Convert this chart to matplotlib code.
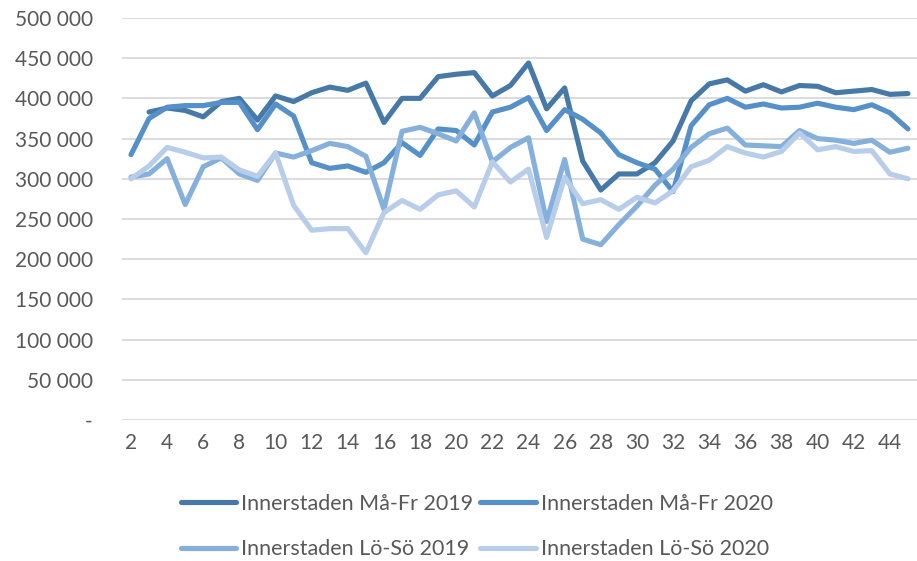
import numpy as np
import matplotlib
matplotlib.use("Agg")
import matplotlib.pyplot as plt
from matplotlib.ticker import FuncFormatter

# weeks 2..45
weeks = list(range(2, 46))

# Innerstaden Må-Fr 2019 (no value for week 2)
mafr_2019 = [np.nan, 383000, 388000, 385000, 377000, 396000, 400000, 373000, 403000, 396000,
             407000, 414000, 410000, 419000, 370000, 400000, 400000, 427000, 430000, 432000,
             403000, 416000, 444000, 387000, 413000, 322000, 286000, 306000, 306000, 320000,
             347000, 397000, 418000, 423000, 409000, 417000, 408000, 416000, 415000, 407000,
             409000, 411000, 405000, 406000]
# Innerstaden Må-Fr 2020
mafr_2020 = [330000, 375000, 389000, 391000, 391000, 395000, 395000, 361000, 393000, 378000,
             320000, 313000, 316000, 308000, 320000, 345000, 329000, 362000, 360000, 342000,
             383000, 389000, 401000, 360000, 386000, 374000, 357000, 330000, 320000, 312000,
             284000, 366000, 392000, 400000, 389000, 393000, 388000, 389000, 394000, 389000,
             386000, 392000, 382000, 362000]
# Innerstaden Lö-Sö 2019
loso_2019 = [302000, 306000, 325000, 268000, 315000, 326000, 306000, 298000, 332000, 327000,
             335000, 344000, 340000, 328000, 262000, 359000, 364000, 356000, 347000, 382000,
             321000, 339000, 351000, 247000, 324000, 225000, 218000, 243000, 266000, 292000,
             312000, 339000, 356000, 363000, 342000, 341000, 340000, 360000, 350000, 348000,
             344000, 348000, 333000, 338000]
# Innerstaden Lö-Sö 2020
loso_2020 = [300000, 316000, 339000, 333000, 326000, 327000, 311000, 303000, 332000, 267000,
             236000, 238000, 238000, 208000, 258000, 273000, 262000, 280000, 285000, 265000,
             321000, 296000, 312000, 227000, 302000, 269000, 274000, 262000, 277000, 270000,
             285000, 315000, 323000, 340000, 332000, 327000, 334000, 357000, 336000, 340000,
             334000, 335000, 306000, 300000]

labels = ["Innerstaden Må-Fr 2019", "Innerstaden Må-Fr 2020",
          "Innerstaden Lö-Sö 2019", "Innerstaden Lö-Sö 2020"]
colors = ["#4679a8", "#5591c8", "#86b0dc", "#b7cde9"]

plt.rcParams['font.family'] = ['Lato', 'DejaVu Sans']
text_color = "#595959"

fig = plt.figure(figsize=(9.17, 5.61), dpi=100)
ax = fig.add_axes([0.133, 0.2513, 0.867, 0.7167])

series = [mafr_2019, mafr_2020, loso_2019, loso_2020]
lines = []
for vals, lab, col in zip(series, labels, colors):
    ln, = ax.plot(weeks, vals, color=col, linewidth=3.7, label=lab,
                  solid_joinstyle='round', solid_capstyle='round')
    lines.append(ln)

ax.set_xlim(1.5, 45.5)
ax.set_ylim(0, 500000)
ax.set_yticks(np.arange(0, 500001, 50000))
ax.set_xticks(range(2, 45, 2))


def fmt(v, pos):
    if v == 0:
        return "-"
    return f"{int(v):,}".replace(",", " ")


ax.yaxis.set_major_formatter(FuncFormatter(fmt))
ax.grid(axis='y', color="#d9d9d9", linewidth=1.3)
ax.set_axisbelow(True)
for s in ax.spines.values():
    s.set_visible(False)
ax.tick_params(axis='both', length=0, labelsize=15, colors=text_color)
ax.tick_params(axis='y', pad=21)
ax.tick_params(axis='x', pad=9)

# legend filled row by row: Må-Fr on top, Lö-Sö below
order = [0, 2, 1, 3]
leg = fig.legend([lines[i] for i in order], [labels[i] for i in order],
                 ncol=2, loc='center', bbox_to_anchor=(0.52, 0.0615), frameon=False,
                 fontsize=15.5, handlelength=2.56, handletextpad=0.23,
                 columnspacing=0.33, labelspacing=1.19)
for t in leg.get_texts():
    t.set_color(text_color)

fig.savefig("out.png", dpi=100)
